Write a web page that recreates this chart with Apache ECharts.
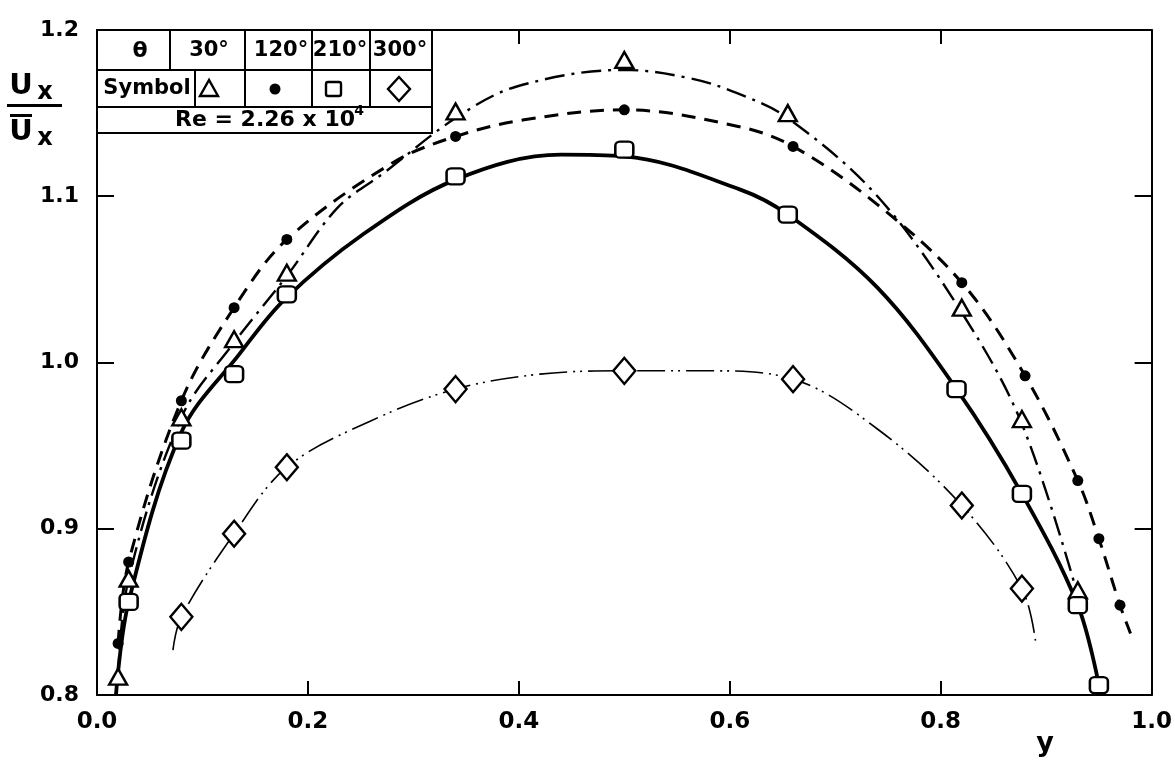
<!DOCTYPE html>
<html>
<head>
<meta charset="utf-8">
<script src="https://cdn.jsdelivr.net/npm/echarts@6/dist/echarts.min.js"></script>
<style>
html,body{margin:0;padding:0;background:#fff;}
#c{width:1175px;height:761px;}
</style>
</head>
<body>
<div id="c"></div>
<script>
// ---- data ----
const xTicks = [0.0, 0.2, 0.4, 0.6, 0.8, 1.0];
const yTicks = [0.8, 0.9, 1.0, 1.1, 1.2];

// theta = 30 deg (triangles, dash-dot)
const triX = [0.02, 0.03, 0.08, 0.13, 0.18, 0.34, 0.50, 0.655, 0.82, 0.877, 0.93];
const triY = [0.811, 0.870, 0.967, 1.014, 1.054, 1.151, 1.182, 1.150, 1.033, 0.966, 0.863];
const triCurveX = [0.02, 0.03, 0.08, 0.13, 0.18, 0.228, 0.272, 0.34, 0.398, 0.50, 0.562, 0.607, 0.655, 0.74, 0.82, 0.877, 0.93];
const triCurveY = [0.811, 0.870, 0.967, 1.012, 1.052, 1.093, 1.114, 1.147, 1.166, 1.176, 1.171, 1.162, 1.147, 1.100, 1.030, 0.963, 0.860];

// theta = 120 deg (dots, dashed)
const dotX = [0.02, 0.03, 0.08, 0.13, 0.18, 0.34, 0.50, 0.66, 0.82, 0.88, 0.93, 0.95, 0.97];
const dotY = [0.831, 0.880, 0.977, 1.033, 1.074, 1.136, 1.152, 1.130, 1.048, 0.992, 0.929, 0.894, 0.854];
const dotCurveX = [0.02, 0.03, 0.08, 0.13, 0.18, 0.28, 0.34, 0.405, 0.50, 0.608, 0.66, 0.74, 0.82, 0.88, 0.93, 0.95, 0.97, 0.98];
const dotCurveY = [0.831, 0.880, 0.977, 1.033, 1.074, 1.120, 1.136, 1.146, 1.152, 1.142, 1.130, 1.095, 1.048, 0.992, 0.929, 0.894, 0.854, 0.837];

// theta = 210 deg (squares, solid)
const sqX = [0.03, 0.08, 0.13, 0.18, 0.34, 0.50, 0.655, 0.815, 0.877, 0.93, 0.95];
const sqY = [0.856, 0.953, 0.993, 1.041, 1.112, 1.128, 1.089, 0.984, 0.921, 0.854, 0.806];
const sqCurveX = [0.018, 0.03, 0.08, 0.135, 0.178, 0.252, 0.34, 0.44, 0.50, 0.61, 0.655, 0.74, 0.815, 0.877, 0.93, 0.95];
const sqCurveY = [0.800, 0.856, 0.958, 1.005, 1.038, 1.077, 1.110, 1.125, 1.124, 1.104, 1.089, 1.045, 0.984, 0.921, 0.854, 0.806];

// theta = 300 deg (diamonds, dash-dot-dot)
const diaX = [0.08, 0.13, 0.18, 0.34, 0.50, 0.66, 0.82, 0.877];
const diaY = [0.847, 0.897, 0.937, 0.984, 0.995, 0.990, 0.914, 0.864];
const diaCurveX = [0.072, 0.08, 0.13, 0.18, 0.26, 0.34, 0.42, 0.50, 0.58, 0.66, 0.74, 0.82, 0.877, 0.89];
const diaCurveY = [0.827, 0.847, 0.897, 0.937, 0.965, 0.984, 0.993, 0.995, 0.995, 0.990, 0.960, 0.914, 0.864, 0.832];

const tableAngles = ['30°', '120°', '210°', '300°'];
const reText = 'Re = 2.26 x 10';
const reExp = '4';

// ---- chart ----
const zip = (xs, ys) => xs.map((x, i) => [x, ys[i]]);
const FONT = '"DejaVu Sans", "Liberation Sans", sans-serif';
const L = 97, T = 30, R = 22, B = 66;

const chart = echarts.init(document.getElementById('c'), null, {renderer: 'canvas'});

const axisCommon = {
  type: 'value',
  axisLine: {show: true, onZero: false, lineStyle: {color: '#000', width: 2}},
  splitLine: {show: false}
};

function lineSeries(name, data, lineType, width) {
  return {
    name, type: 'line', data, showSymbol: false, symbol: 'none',
    smooth: 0.35,
    lineStyle: {color: '#000', width, type: lineType},
    z: 2, silent: true
  };
}
function markSeries(name, data, symbol, size, filled) {
  return {
    name, type: 'scatter', data, symbol, symbolSize: size,
    itemStyle: filled ? {color: '#000', opacity: 1} : {color: '#fff', borderColor: '#000', borderWidth: 2.4, opacity: 1},
    z: 5, silent: true
  };
}

// table graphic
const g = [];
const colsRow1 = [0, 73, 148, 215, 273, 335];
const colsRow2 = [0, 98, 148, 215, 273, 335];
const rows = [0, 40, 77, 103];
const tw = 335;
g.push({type: 'rect', z: 20, shape: {x: L, y: T, width: tw, height: rows[3]},
        style: {fill: '#fff', stroke: '#000', lineWidth: 2}});
for (let i = 1; i < 3; i++) {
  g.push({type: 'line', z: 21, shape: {x1: L, y1: T + rows[i], x2: L + tw, y2: T + rows[i]},
          style: {stroke: '#000', lineWidth: 2}});
}
for (let i = 1; i < colsRow1.length - 1; i++) {
  g.push({type: 'line', z: 21, shape: {x1: L + colsRow1[i], y1: T, x2: L + colsRow1[i], y2: T + rows[1]},
          style: {stroke: '#000', lineWidth: 2}});
}
for (let i = 1; i < colsRow2.length - 1; i++) {
  g.push({type: 'line', z: 21, shape: {x1: L + colsRow2[i], y1: T + rows[1], x2: L + colsRow2[i], y2: T + rows[2]},
          style: {stroke: '#000', lineWidth: 2}});
}
function txt(s, x, y, size, extra) {
  return Object.assign({type: 'text', z: 22, x, y,
    style: {text: s, fill: '#000', font: 'bold ' + size + 'px ' + FONT,
            textAlign: 'center', textVerticalAlign: 'middle'}}, extra || {});
}
const r1y = T + 21, r2y = T + 59, r3y = T + 90;
g.push(txt('θ', L + 43, r1y, 22));
const angleCx = [112, 184, 243, 303];
tableAngles.forEach((a, i) => g.push(txt(a, L + angleCx[i], r1y, 21)));
g.push(txt('Symbol', L + 50, r2y, 21));
// symbols in table
g.push({type: 'polygon', z: 22, shape: {points: [[L + 112, r2y - 9], [L + 103, r2y + 7], [L + 121, r2y + 7]]},
        style: {fill: '#fff', stroke: '#000', lineWidth: 2.4}});
g.push({type: 'circle', z: 22, shape: {cx: L + 178, cy: r2y, r: 5.5}, style: {fill: '#000'}});
g.push({type: 'rect', z: 22, shape: {x: L + 236 - 7, y: r2y - 7, width: 15, height: 14, r: 2},
        style: {fill: '#fff', stroke: '#000', lineWidth: 2.4}});
g.push({type: 'polygon', z: 22, shape: {points: [[L + 302, r2y - 12], [L + 313, r2y], [L + 302, r2y + 12], [L + 291, r2y]]},
        style: {fill: '#fff', stroke: '#000', lineWidth: 2.4}});
g.push(txt(reText, L + 168, r3y, 22));
g.push(txt(reExp, L + 262, r3y - 9, 14));

// y-axis title  Ux / Ux-bar
g.push(txt('U', 21, 86, 29));
g.push(txt('x', 45, 93, 24));
g.push({type: 'rect', shape: {x: 7, y: 104, width: 55, height: 3}, style: {fill: '#000'}});
g.push({type: 'rect', shape: {x: 10, y: 114, width: 22, height: 3}, style: {fill: '#000'}});
g.push(txt('U', 21, 132, 29));
g.push(txt('x', 45, 139, 24));
// x-axis title
g.push(txt('y', 1045, 744, 27));

const option = {
  animation: false,
  backgroundColor: '#fff',
  grid: {left: L, right: R, top: T, bottom: B, containLabel: false},
  xAxis: [
    Object.assign({}, axisCommon, {
      min: xTicks[0], max: xTicks[xTicks.length - 1], interval: 0.2, position: 'bottom',
      axisTick: {show: true, inside: true, length: 14, lineStyle: {color: '#000', width: 2}},
      axisLabel: {show: true, margin: 16, color: '#000', fontFamily: FONT, fontWeight: 'bold', fontSize: 23,
                  formatter: v => v.toFixed(1)}
    }),
    Object.assign({}, axisCommon, {
      min: xTicks[0], max: xTicks[xTicks.length - 1], interval: 0.2, position: 'top',
      axisTick: {show: true, inside: true, length: 14, lineStyle: {color: '#000', width: 2}},
      axisLabel: {show: false}
    })
  ],
  yAxis: [
    Object.assign({}, axisCommon, {
      min: yTicks[0], max: yTicks[yTicks.length - 1], interval: 0.1, position: 'left',
      axisTick: {show: true, inside: true, length: 17, lineStyle: {color: '#000', width: 2}},
      axisLabel: {show: true, margin: 18, color: '#000', fontFamily: FONT, fontWeight: 'bold', fontSize: 22,
                  formatter: v => v.toFixed(1)}
    }),
    Object.assign({}, axisCommon, {
      min: yTicks[0], max: yTicks[yTicks.length - 1], interval: 0.1, position: 'right',
      axisTick: {show: true, inside: true, length: 17, lineStyle: {color: '#000', width: 2}},
      axisLabel: {show: false}
    })
  ],
  series: [
    lineSeries('30° curve', zip(triCurveX, triCurveY), [20, 7, 3, 7], 2.4),
    lineSeries('120° curve', zip(dotCurveX, dotCurveY), [14, 9], 3),
    lineSeries('210° curve', zip(sqCurveX, sqCurveY), 'solid', 3.8),
    lineSeries('300° curve', zip(diaCurveX, diaCurveY), [28, 6, 2, 5, 2, 6], 1.6),
    markSeries('30°', zip(triX, triY), 'triangle', [18, 16], false),
    markSeries('120°', zip(dotX, dotY), 'circle', 11, true),
    markSeries('210°', zip(sqX, sqY), 'roundRect', [18, 16], false),
    markSeries('300°', zip(diaX, diaY), 'diamond', [22, 26], false)
  ],
  graphic: g
};
chart.setOption(option);
</script>
</body>
</html>
